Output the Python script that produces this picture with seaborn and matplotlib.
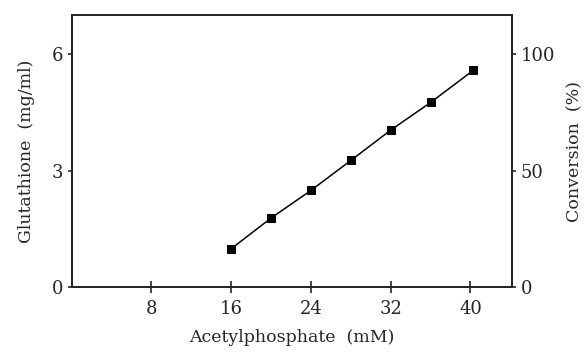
import matplotlib
matplotlib.use("Agg")
import matplotlib.pyplot as plt
import seaborn as sns
import pandas as pd

acetylphosphate = [16, 20, 24, 28, 32, 36, 40.3]
glutathione = [0.99, 1.78, 2.49, 3.26, 4.04, 4.75, 5.58]
x_ticks = [8, 16, 24, 32, 40]
y_ticks = [0, 3, 6]
conv_ticks = [0, 50, 100]

sns.set_style("ticks")
plt.rcParams['font.family'] = ['DejaVu Serif']

df = pd.DataFrame({"x": acetylphosphate, "y": glutathione})

fig = plt.figure(figsize=(5.86, 3.56), dpi=100)
ax = fig.add_axes([0.1223, 0.193, 0.752, 0.765])
sns.lineplot(data=df, x="x", y="y", ax=ax, color="black", marker="s",
             markersize=6, linewidth=1.1, markeredgecolor="black")
ax.set_xlim(0, 44.2)
ax.set_ylim(0, 7)
ax.set_xticks(x_ticks)
ax.set_yticks(y_ticks)
ax.tick_params(axis="x", direction="inout", length=8, width=1.2, labelsize=13, pad=5)
ax.tick_params(axis="y", direction="out", length=3, width=1.2, labelsize=13, pad=3)
ax.set_xlabel("Acetylphosphate  (mM)", fontsize=12.5, labelpad=8)
ax.set_ylabel("Glutathione  (mg/ml)", fontsize=12.5, labelpad=12)
for s in ax.spines.values():
    s.set_linewidth(1.4)
    s.set_visible(True)

ax2 = ax.twinx()
ax2.set_ylim(0, 7 / 6 * 100)
ax2.set_yticks(conv_ticks)
ax2.tick_params(axis="y", direction="out", length=3, width=1.2, labelsize=13, pad=3)
ax2.set_ylabel("Conversion  (%)", fontsize=12.5, labelpad=8)
for s in ax2.spines.values():
    s.set_linewidth(1.4)

fig.savefig("out.png", dpi=100)
